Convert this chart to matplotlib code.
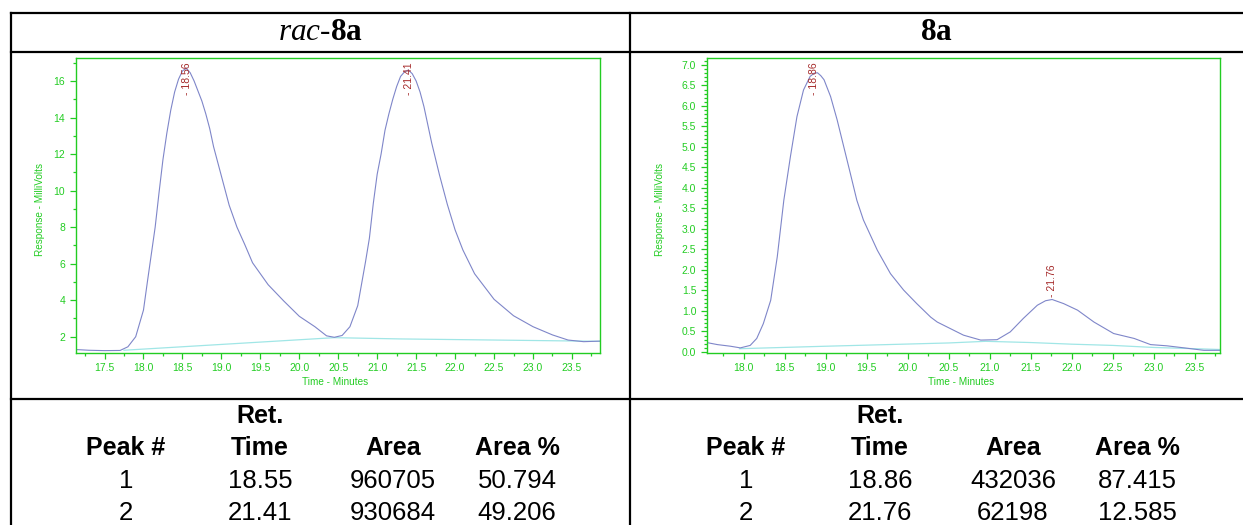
import numpy as np
import matplotlib
matplotlib.use("Agg")
import matplotlib.pyplot as plt
from matplotlib.lines import Line2D
from matplotlib.ticker import MultipleLocator, FormatStrFormatter

plt.rcParams['font.family'] = ['Liberation Sans', 'DejaVu Sans']
plt.rcParams['mathtext.fontset'] = 'custom'
plt.rcParams['mathtext.rm'] = 'Liberation Serif'
plt.rcParams['mathtext.it'] = 'Liberation Serif:italic'
plt.rcParams['mathtext.bf'] = 'Liberation Serif:bold'

W, H = 1243, 525
GREEN = '#22cc22'
TRACE = '#7f86c9'
BASE = '#a0e6e6'
PEAK_RED = '#a52a2a'

# rac-8a trace (minutes, mV)
rac_time = [17.13, 17.3, 17.5, 17.7, 17.8, 17.9, 18.0, 18.05, 18.1, 18.15, 18.2, 18.25,
            18.3, 18.35, 18.4, 18.45, 18.5, 18.55, 18.6, 18.65, 18.7, 18.75, 18.8, 18.85,
            18.9, 18.95, 19.0, 19.1, 19.2, 19.3, 19.4, 19.5, 19.6, 19.8, 20.0, 20.2, 20.35,
            20.45, 20.55, 20.65, 20.75, 20.85, 20.9, 20.95, 21.0, 21.05, 21.1, 21.15, 21.2,
            21.25, 21.3, 21.35, 21.4, 21.45, 21.5, 21.55, 21.6, 21.7, 21.8, 21.9, 22.0,
            22.1, 22.25, 22.5, 22.75, 23.0, 23.25, 23.45, 23.65, 23.86]
rac_mv = [1.30, 1.26, 1.24, 1.25, 1.45, 2.0, 3.46, 5.0, 6.5, 8.0, 9.9, 11.7,
          13.15, 14.4, 15.4, 16.1, 16.55, 16.7, 16.45, 16.0, 15.45, 14.9, 14.2, 13.4,
          12.4, 11.6, 10.8, 9.2, 8.0, 7.05, 6.05, 5.45, 4.85, 3.96, 3.12, 2.55, 2.05,
          1.97, 2.07, 2.55, 3.7, 6.1, 7.4, 9.3, 10.9, 12.0, 13.3, 14.2, 15.0,
          15.7, 16.25, 16.5, 16.6, 16.4, 16.0, 15.4, 14.6, 12.6, 10.85, 9.25, 7.85,
          6.75, 5.45, 4.05, 3.15, 2.55, 2.1, 1.82, 1.73, 1.76]
rac_base_time = [17.75, 20.45, 21.3, 22.5, 23.86]
rac_base_mv = [1.26, 1.95, 1.88, 1.82, 1.75]
rac_peaks = [18.56, 21.41]

# 8a trace (minutes, mV)
ee_time = [17.55, 17.68, 17.84, 17.96, 18.08, 18.16, 18.24, 18.33, 18.41, 18.49, 18.57,
           18.65, 18.73, 18.81, 18.86, 18.9, 18.94, 18.98, 19.06, 19.14, 19.22, 19.3,
           19.38, 19.46, 19.63, 19.79, 19.95, 20.11, 20.28, 20.36, 20.44, 20.52, 20.68,
           20.89, 21.09, 21.25, 21.41, 21.58, 21.68, 21.76, 21.9, 22.07, 22.27, 22.51,
           22.76, 22.96, 23.16, 23.37, 23.61, 23.81]
ee_mv = [0.23, 0.18, 0.14, 0.10, 0.16, 0.33, 0.69, 1.26, 2.32, 3.70, 4.76,
         5.74, 6.39, 6.72, 6.80, 6.81, 6.74, 6.64, 6.23, 5.66, 5.01, 4.36,
         3.70, 3.22, 2.48, 1.91, 1.51, 1.18, 0.85, 0.73, 0.65, 0.57, 0.41,
         0.29, 0.30, 0.49, 0.82, 1.14, 1.25, 1.28, 1.18, 1.02, 0.73, 0.45,
         0.33, 0.18, 0.15, 0.10, 0.04, 0.04]
ee_base_time = [17.95, 19.0, 20.5, 20.95, 21.5, 22.0, 22.5, 23.0, 23.5, 23.81]
ee_base_mv = [0.08, 0.14, 0.22, 0.26, 0.23, 0.19, 0.16, 0.11, 0.08, 0.06]
ee_peaks = [18.86, 21.76]

# peak tables
peak_no = [1, 2]
rac_ret = [18.55, 21.41]
rac_area = [960705, 930684]
rac_pct = [50.794, 49.206]
ee_ret = [18.86, 21.76]
ee_area = [432036, 62198]
ee_pct = [87.415, 12.585]


def fx(x):
    return x / W


def fy(y):
    return 1 - y / H


def chromatogram(rect, t, mv, bt, bmv, peaks, xlim, ylim, ymaj, ymin, yfmt, ylab_x):
    ax = fig.add_axes(rect)
    ax.plot(bt, bmv, color=BASE, lw=0.9)
    ax.plot(t, mv, color=TRACE, lw=0.8)
    ax.set_xlim(*xlim)
    ax.set_ylim(*ylim)
    for s in ax.spines.values():
        s.set_color(GREEN)
        s.set_linewidth(1.0)
    ax.xaxis.set_major_locator(MultipleLocator(0.5))
    ax.xaxis.set_minor_locator(MultipleLocator(0.25))
    ax.xaxis.set_major_formatter(FormatStrFormatter('%.1f'))
    ax.yaxis.set_major_locator(MultipleLocator(ymaj))
    ax.yaxis.set_minor_locator(MultipleLocator(ymin))
    ax.yaxis.set_major_formatter(FormatStrFormatter(yfmt))
    ax.tick_params(which='both', colors=GREEN, labelcolor=GREEN, labelsize=7.5,
                   direction='out', width=0.9, pad=3)
    ax.tick_params(which='major', length=4.5)
    ax.tick_params(which='minor', length=2.3)
    ax.set_xlabel('Time - Minutes', color=GREEN, fontsize=7.2)
    ax.set_ylabel('Response - MilliVolts', color=GREEN, fontsize=7.2)
    ax.xaxis.set_label_coords(0.495, -0.083)
    ax.yaxis.set_label_coords(ylab_x, 0.485)

    # peak time labels, pushed down under the frame when the peak is tall
    lo, hi = ylim
    for p in peaks:
        v = np.interp(p, t, mv)
        frac = (v - lo) / (hi - lo)
        if frac > 0.8:
            ax.text(p, 0.985, '- %.2f' % p, transform=ax.get_xaxis_transform(),
                    rotation=90, ha='center', va='top', color=PEAK_RED, fontsize=7.5)
        else:
            ax.text(p, frac + 0.008, '- %.2f' % p, transform=ax.get_xaxis_transform(),
                    rotation=90, ha='center', va='bottom', color=PEAK_RED, fontsize=7.5)
    return ax


fig = plt.figure(figsize=(W / 100, H / 100), dpi=100)

# frame of the comparison table
lw = 1.6
for y in (13, 52, 399):
    fig.add_artist(Line2D([fx(11), 1], [fy(y), fy(y)], color='black', lw=lw))
for x in (11, 630):
    fig.add_artist(Line2D([fx(x), fx(x)], [fy(13), 0], color='black', lw=lw))

fig.text(fx(320), fy(33), r'$\mathit{rac}$-$\mathbf{8a}$', ha='center', va='center',
         fontsize=22.5, family='Liberation Serif')
fig.text(fx(936), fy(33), r'$\mathbf{8a}$', ha='center', va='center',
         fontsize=22.5, family='Liberation Serif')

chromatogram([fx(75.7), fy(353), fx(600) - fx(75.7), fy(58) - fy(353)],
             rac_time, rac_mv, rac_base_time, rac_base_mv, rac_peaks,
             (17.13, 23.86), (1.11, 17.26), 2, 1, '%d', -0.059)
chromatogram([fx(706.7), fy(353), fx(1220.3) - fx(706.7), fy(58) - fy(353)],
             ee_time, ee_mv, ee_base_time, ee_base_mv, ee_peaks,
             (17.55, 23.81), (-0.025, 7.17), 0.5, 0.1, '%.1f', -0.081)

# peak tables
cols = [126, 260, 393, 517]
heads = ['Peak #', 'Time', 'Area', 'Area %']
for off, ret, area, pct in ((0, rac_ret, rac_area, rac_pct), (620, ee_ret, ee_area, ee_pct)):
    fig.text(fx(cols[1] + off), fy(423), 'Ret.', ha='center', va='baseline',
             fontsize=18, fontweight='bold')
    for c, h in zip(cols, heads):
        fig.text(fx(c + off), fy(455), h, ha='center', va='baseline',
                 fontsize=18, fontweight='bold')
    for i, n in enumerate(peak_no):
        y = fy(488 + 32 * i)
        vals = [str(n), '%.2f' % ret[i], str(area[i]), '%.3f' % pct[i]]
        for c, v in zip(cols, vals):
            fig.text(fx(c + off), y, v, ha='center', va='baseline', fontsize=18.5)

fig.savefig('out.png', dpi=100)
